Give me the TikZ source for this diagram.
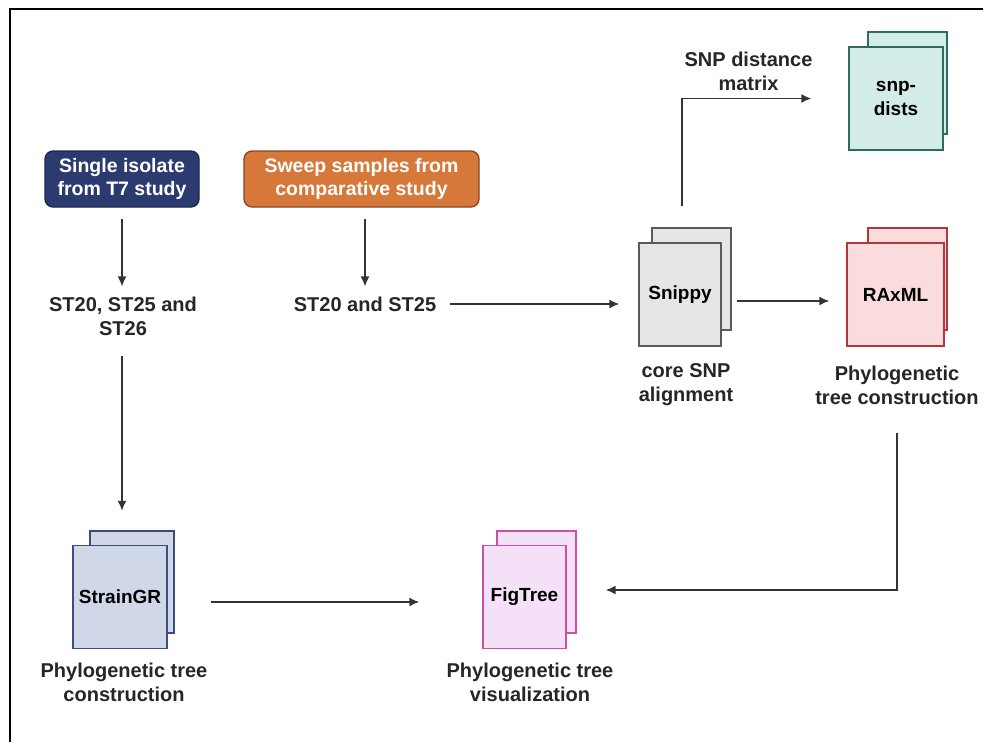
\documentclass[tikz,border=0pt]{standalone}
\usepackage{fontspec}
\setmainfont{Liberation Sans}
\usetikzlibrary{arrows.meta}
\definecolor{isofill}{HTML}{2B3A6F}
\definecolor{isoline}{HTML}{1B2550}
\definecolor{swpfill}{HTML}{D67839}
\definecolor{swpline}{HTML}{8A4520}
\definecolor{snpyfill}{HTML}{E6E6E6}
\definecolor{snpyline}{HTML}{5A5A5A}
\definecolor{raxfill}{HTML}{FADCDC}
\definecolor{raxline}{HTML}{B5343F}
\definecolor{distfill}{HTML}{D3ECE7}
\definecolor{distline}{HTML}{2E6B60}
\definecolor{strfill}{HTML}{D0D7E8}
\definecolor{strline}{HTML}{3C4C7D}
\definecolor{figfill}{HTML}{F4E0F7}
\definecolor{figline}{HTML}{CF4FA8}
\definecolor{txtgray}{HTML}{262626}
\definecolor{arrgray}{HTML}{333333}
\tikzset{
  srcbox/.style={rounded corners=8pt, line width=1.3pt, minimum width=154pt, minimum height=56pt,
    align=center, text=white, font=\bfseries\fontsize{19.5}{23}\selectfont},
  card/.style={line width=1.4pt, minimum height=103pt, align=center,
    font=\bfseries\fontsize{19}{24}\selectfont},
  lbl/.style={align=center, text=txtgray, inner sep=0pt, font=\bfseries\fontsize{20}{24}\selectfont},
  arr/.style={draw=arrgray, line width=1.6pt, -{Latex[length=10pt,width=9pt]}}
}
\begin{document}
\begin{tikzpicture}[x=1pt,y=-1pt]
			%%%%% START %%%%%
			\useasboundingbox (0,0) rectangle (983,742);
			\draw[line width=2pt] (10,742) -- (10,9) -- (983,9);
			
			% sources
			\node[srcbox, draw=isoline, fill=isofill] (iso) at (122,179) {Single isolate\\from T7 study};
			\node[srcbox, draw=swpline, fill=swpfill, minimum width=235pt] (swp) at (361.5,179) {Sweep samples from\\comparative study};
			
			\node[lbl] (st1) at (123,316) {ST20, ST25 and\\ST26};
			\node[lbl] (st2) at (365,304) {ST20 and ST25};
			
			% stacked cards
			\draw[line width=1.4pt, draw=snpyline, fill=snpyfill] (652,228) rectangle (731,330);
			\node[card, draw=snpyline, fill=snpyfill, minimum width=82pt] (snippy) at (680,294.5) {Snippy};
			
			\draw[line width=1.4pt, draw=raxline, fill=raxfill] (868,228) rectangle (947,330);
			\node[card, draw=raxline, fill=raxfill, minimum width=97pt] (rax) at (895.5,294.5) {RAxML};
			
			\draw[line width=1.4pt, draw=distline, fill=distfill] (868,32) rectangle (947,134);
			\node[card, draw=distline, fill=distfill, minimum width=94pt] (dists) at (896,98.5) {snp-\\dists};
			
			\draw[line width=1.4pt, draw=strline, fill=strfill] (90,531) rectangle (174,633);
			\node[card, draw=strline, fill=strfill, minimum width=94pt] (strain) at (120,597) {StrainGR};
			
			\draw[line width=1.4pt, draw=figline, fill=figfill] (497,531) rectangle (576,633);
			\node[card, draw=figline, fill=figfill, minimum width=83pt] (fig) at (524.5,597) {FigTree};
			
			% labels
			\node[lbl] (snippylbl) at (686,385) {core SNP\\alignment};
			\node[lbl] (raxlbl) at (897,385) {Phylogenetic\\tree construction};
			\node[lbl] (strainlbl) at (124,682) {Phylogenetic tree\\construction};
			\node[lbl] (figlbl) at (530,682) {Phylogenetic tree\\visualization};
			
			% arrows
			\draw[arr, shorten <=11pt, shorten >=10pt] (iso) -- (iso |- st1.north);
			\draw[arr, shorten <=11pt, shorten >=10pt] (swp.south -| st2) -- (st2);
			\draw[arr, shorten <=20pt, shorten >=34pt] (st1.south -| iso) -- (iso |- strain.north);
			\draw[arr, shorten <=14pt, shorten >=19pt] (st2.east) -- (st2.east -| snippy.west);
			\draw[arr, shorten <=15pt, shorten >=17pt] ([yshift=-6.5pt]snippy.east) -- ([yshift=-6.5pt]rax.west);
			\draw[arr, shorten <=36pt, shorten >=37pt] ([xshift=2pt]snippy.north) |- node[lbl, pos=0.70, above=7pt] (matlbl) {SNP distance\\matrix} (dists.west);
			\draw[arr, shorten <=28pt] (raxlbl.south) |- ([xshift=39pt,yshift=7pt]fig.east);
			\draw[arr, shorten <=43pt, shorten >=63pt] ([yshift=-5pt]strain.east) -- ([yshift=-5pt]fig.west);
			%%%%% END %%%%%
\end{tikzpicture}
\end{document}
